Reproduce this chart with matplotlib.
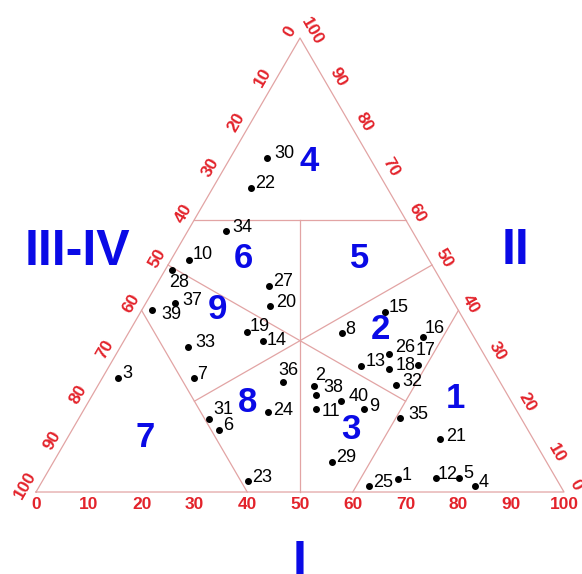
import numpy as np
import matplotlib.pyplot as plt

plt.rcParams['font.family'] = ['Liberation Sans', 'DejaVu Sans']

# Sample compositions (percent of I, II and III-IV)
sample_ids = list(range(1, 41))
comp_i = [67.2, 41.0, 3.0, 82.4, 78.6, 27.8, 17.3, 40.4, 53.0, 3.3,
          43.8, 74.2, 47.7, 26.3, 46.2, 56.2, 58.3, 53.3, 22.3, 23.8,
          70.8, 7.3, 38.9, 35.2, 62.4, 51.7, 21.4, 1.4, 52.7, 6.9,
          24.8, 56.5, 12.8, 7.2, 60.8, 34.6, 5.5, 42.3, 2.0, 47.7]
comp_ii = [2.9, 23.3, 25.2, 1.3, 3.1, 13.7, 25.1, 35.0, 18.3, 51.2,
           18.3, 3.1, 27.8, 33.3, 39.7, 34.1, 28.0, 27.2, 35.3, 41.0,
           11.6, 67.0, 2.4, 17.6, 1.3, 30.4, 45.4, 48.9, 6.7, 73.6,
           16.0, 23.5, 32.0, 57.5, 16.4, 24.2, 41.7, 21.4, 40.1, 20.1]
comp_iii = [100 - a - b for a, b in zip(comp_i, comp_ii)]

# Field boundaries as (I, II) end points
boundaries = [
    ((0, 60), (40, 60)),   # II = 60
    ((50, 0), (20, 60)),   # I = III
    ((0, 50), (60, 20)),   # II = III
    ((20, 20), (50, 50)),  # I = II
    ((60, 40), (60, 0)),   # I = 60
    ((0, 40), (40, 0)),    # III-IV = 60
]

# Field numbers and where they sit (I, II)
field_names = ['1', '2', '3', '4', '5', '6', '7', '8', '9']
field_pos = [(69.0, 20.7), (47.3, 35.7), (52.8, 13.7), (15.4, 72.7), (35.6, 51.5),
             (13.6, 51.5), (14.7, 11.9), (30.2, 19.8), (14.4, 40.1)]

tick_values = list(range(0, 101, 10))

RED = '#e3232b'
BLUE = '#0a0ae6'
LINE = '#e2a4a4'


def to_xy(i, ii):
    i = np.asarray(i, dtype=float)
    ii = np.asarray(ii, dtype=float)
    return i + ii / 2.0, ii


fig = plt.figure(figsize=(5.82, 5.74), dpi=100)
ax = fig.add_axes([0, 0, 1, 1])
ax.set_xlim(-6.82, 103.41)
ax.set_ylim(-18.06, 108.37)
ax.axis('off')

# triangle outline
corners = [(0, 0), (100, 0), (0, 100), (0, 0)]
cx, cy = to_xy([c[0] for c in corners], [c[1] for c in corners])
ax.plot(cx, cy, color=LINE, lw=0.9, zorder=1)

for a, b in boundaries:
    x, y = to_xy([a[0], b[0]], [a[1], b[1]])
    ax.plot(x, y, color=LINE, lw=0.9, zorder=1)

# tick labels on the three sides
tick_kw = dict(textcoords='offset pixels', ha='center', va='center',
               color=RED, fontsize=12.5, fontweight='bold')
for v in tick_values:
    x, y = to_xy(v, 0)
    ax.annotate(str(v), (x, y), xytext=(0, -12), **tick_kw)

    # left side: III-IV, 0 at top
    x, y = to_xy(0, 100 - v)
    ax.annotate(str(v), (x, y), xytext=(-10.5, 6.5), rotation=60,
                rotation_mode='anchor', **tick_kw)

    # right side: II, 0 at bottom
    right_shift = {10: 15, 20: 9, 30: 2}.get(v, 0)
    nx, ny = 0.865 * 13.5 + 0.503 * right_shift, 0.503 * 13.5 - 0.865 * right_shift
    x, y = to_xy(100 - v, v)
    ax.annotate(str(v), (x, y), xytext=(nx, ny), rotation=-60,
                rotation_mode='anchor', **tick_kw)

# field numbers
for name, (fi, fii) in zip(field_names, field_pos):
    x, y = to_xy(fi, fii)
    ax.text(x, y, name, ha='center', va='center', color=BLUE,
            fontsize=25, fontweight='bold')

# end member labels
ax.text(7.8, 52.9, 'III-IV', ha='center', va='center', color=BLUE, fontsize=36, fontweight='bold')
ax.text(90.9, 53.1, 'II', ha='center', va='center', color=BLUE, fontsize=36, fontweight='bold')
ax.text(50.0, -10.6, 'I', ha='center', va='top', color=BLUE, fontsize=36, fontweight='bold')

# samples
px, py = to_xy(comp_i, comp_ii)
ax.plot(px, py, 'o', color='black', markersize=4, zorder=3)

label_offsets = {
    28: (-3, -13), 37: (7, 2), 39: (9, -5), 16: (2, 9), 17: (-2, 14), 2: (1, 11),
    38: (8, 7), 40: (8, 4), 11: (6, -3), 36: (-4, 12), 31: (4, 10), 30: (8, 4),
    34: (7, 3), 33: (7, 4), 26: (6, 6), 35: (8, 3), 20: (6, 3), 18: (6, 3),
    32: (6, 4), 21: (6, 3), 14: (4, 0), 19: (3, 5), 10: (4, 5), 12: (2, 3),
    1: (3, 3), 9: (5, 2), 24: (5, 2),
}
for sid, x, y in zip(sample_ids, px, py):
    dx, dy = label_offsets.get(sid, (4, 4))
    ax.annotate(str(sid), (x, y), xytext=(dx, dy), textcoords='offset pixels',
                ha='left', va='center', color='black', fontsize=13, zorder=4)

fig.savefig('out.png', dpi=100)
